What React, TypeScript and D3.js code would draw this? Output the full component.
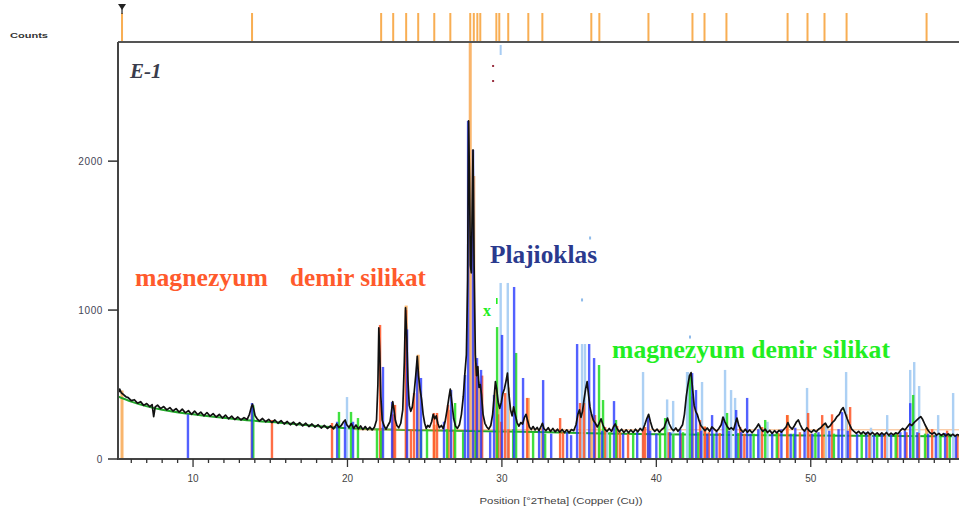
import React from 'react';
import * as d3 from 'd3';

// ---------- DATA ----------
// measured diffraction pattern [°2θ, counts]
const pattern: [number, number][] = [
  [5.14, 440], [5.25, 470], [5.35, 445], [5.5, 432], [5.65, 418], [5.8, 412], [6.0, 392], [6.2, 398], [6.4, 375],
  [6.6, 385], [6.8, 360], [7.0, 372], [7.2, 352], [7.35, 365], [7.45, 285], [7.55, 350], [7.7, 362], [7.9, 338],
  [8.1, 352], [8.3, 330], [8.5, 345], [8.7, 322], [8.9, 338], [9.1, 315], [9.3, 335], [9.5, 310], [9.7, 325],
  [9.9, 300], [10.1, 322], [10.3, 298], [10.5, 315], [10.7, 290], [10.9, 312], [11.1, 288], [11.3, 305],
  [11.5, 282], [11.7, 300], [11.9, 275], [12.1, 295], [12.3, 270], [12.5, 288], [12.7, 265], [12.9, 282],
  [13.1, 262], [13.3, 278], [13.5, 265], [13.65, 300], [13.78, 350], [13.85, 368], [13.92, 340], [14.02, 290],
  [14.15, 270], [14.3, 255], [14.5, 272], [14.7, 250], [14.9, 266], [15.1, 245], [15.3, 262], [15.5, 240],
  [15.7, 258], [15.9, 235], [16.1, 252], [16.3, 230], [16.5, 248], [16.7, 226], [16.9, 244], [17.1, 222],
  [17.3, 240], [17.5, 218], [17.7, 235], [17.9, 214], [18.1, 230], [18.3, 208], [18.5, 226], [18.7, 205],
  [18.9, 222], [19.1, 202], [19.3, 235], [19.45, 212], [19.6, 225], [19.75, 250], [19.85, 262], [19.95, 230],
  [20.1, 212], [20.25, 238], [20.4, 205], [20.55, 228], [20.7, 202], [20.85, 222], [21.0, 198], [21.15, 218],
  [21.3, 196], [21.45, 214], [21.6, 195], [21.75, 215], [21.88, 260], [21.97, 500], [22.03, 880], [22.09, 720],
  [22.16, 420], [22.25, 260], [22.38, 220], [22.5, 200], [22.62, 225], [22.75, 250], [22.85, 320], [22.93, 385],
  [23.0, 340], [23.1, 260], [23.2, 225], [23.32, 210], [23.45, 240], [23.58, 330], [23.68, 650], [23.76, 1015],
  [23.84, 820], [23.92, 520], [24.0, 360], [24.1, 320], [24.2, 350], [24.32, 450], [24.42, 560], [24.52, 690],
  [24.6, 560], [24.7, 470], [24.8, 400], [24.9, 300], [25.0, 240], [25.1, 205], [25.2, 225], [25.32, 215],
  [25.45, 250], [25.55, 300], [25.65, 270], [25.75, 290], [25.85, 240], [25.95, 210], [26.08, 225], [26.2, 205],
  [26.32, 250], [26.45, 330], [26.58, 420], [26.66, 470], [26.76, 380], [26.88, 270], [27.0, 220], [27.12, 205],
  [27.25, 230], [27.38, 300], [27.5, 420], [27.6, 570], [27.7, 700], [27.78, 1200], [27.84, 2270], [27.9, 1900],
  [27.96, 1300], [28.02, 1250], [28.08, 1700], [28.13, 2075], [28.2, 1300], [28.28, 700], [28.36, 560],
  [28.44, 620], [28.52, 480], [28.6, 500], [28.68, 430], [28.78, 300], [28.9, 240], [29.02, 215], [29.15, 200],
  [29.28, 225], [29.4, 300], [29.5, 420], [29.58, 520], [29.66, 470], [29.76, 380], [29.86, 340], [29.96, 380],
  [30.06, 440], [30.16, 470], [30.26, 520], [30.36, 577], [30.46, 430], [30.56, 330], [30.66, 290], [30.76, 350],
  [30.86, 300], [30.98, 245], [31.1, 220], [31.22, 245], [31.34, 235], [31.46, 280], [31.56, 300], [31.66, 260],
  [31.78, 215], [31.9, 198], [32.02, 218], [32.15, 195], [32.28, 212], [32.4, 190], [32.52, 215], [32.62, 240],
  [32.72, 205], [32.85, 190], [33.0, 210], [33.15, 185], [33.3, 205], [33.45, 182], [33.6, 200], [33.75, 180],
  [33.9, 198], [34.05, 178], [34.2, 196], [34.35, 176], [34.5, 198], [34.65, 190], [34.8, 230], [34.92, 300],
  [35.02, 330], [35.12, 280], [35.22, 320], [35.32, 400], [35.42, 470], [35.52, 520], [35.6, 440], [35.7, 350],
  [35.8, 300], [35.92, 260], [36.05, 240], [36.18, 215], [36.3, 240], [36.42, 270], [36.54, 230], [36.66, 200],
  [36.8, 185], [36.95, 205], [37.1, 185], [37.22, 215], [37.34, 235], [37.46, 205], [37.6, 182], [37.75, 200],
  [37.9, 178], [38.05, 196], [38.2, 176], [38.35, 195], [38.5, 178], [38.65, 200], [38.8, 182], [38.95, 205],
  [39.1, 190], [39.25, 230], [39.38, 270], [39.5, 300], [39.62, 250], [39.75, 205], [39.9, 185], [40.05, 200],
  [40.2, 180], [40.35, 198], [40.5, 210], [40.62, 245], [40.72, 275], [40.84, 235], [40.98, 205], [41.12, 190],
  [41.26, 208], [41.4, 186], [41.55, 205], [41.7, 230], [41.82, 300], [41.94, 420], [42.05, 500], [42.15, 560],
  [42.25, 580], [42.35, 470], [42.45, 360], [42.55, 320], [42.65, 300], [42.76, 260], [42.88, 225], [43.0, 210],
  [43.15, 190], [43.3, 208], [43.45, 186], [43.6, 215], [43.75, 200], [43.9, 185], [44.05, 205], [44.2, 230],
  [44.32, 282], [44.44, 250], [44.58, 220], [44.72, 200], [44.86, 210], [45.0, 195], [45.12, 240], [45.22, 275],
  [45.34, 225], [45.48, 195], [45.62, 180], [45.76, 200], [45.9, 180], [46.05, 195], [46.2, 176], [46.35, 195],
  [46.5, 215], [46.62, 235], [46.76, 205], [46.9, 185], [47.05, 200], [47.2, 178], [47.35, 192], [47.5, 172],
  [47.65, 190], [47.8, 175], [47.95, 192], [48.1, 180], [48.25, 198], [48.4, 215], [48.52, 245], [48.65, 215],
  [48.8, 200], [48.95, 225], [49.08, 250], [49.2, 262], [49.32, 230], [49.46, 200], [49.6, 188], [49.75, 210],
  [49.9, 190], [50.05, 180], [50.2, 196], [50.35, 182], [50.5, 200], [50.65, 210], [50.8, 228], [50.95, 240],
  [51.1, 210], [51.25, 222], [51.4, 245], [51.55, 260], [51.7, 285], [51.85, 300], [51.98, 330], [52.1, 345],
  [52.22, 310], [52.36, 270], [52.5, 235], [52.65, 200], [52.8, 185], [52.95, 172], [53.1, 186], [53.25, 168],
  [53.4, 182], [53.55, 166], [53.7, 180], [53.85, 164], [54.0, 178], [54.15, 162], [54.3, 176], [54.45, 160],
  [54.6, 175], [54.75, 162], [54.9, 178], [55.05, 160], [55.2, 174], [55.35, 162], [55.5, 176], [55.65, 170],
  [55.8, 190], [55.95, 205], [56.1, 195], [56.25, 215], [56.4, 235], [56.55, 225], [56.7, 245], [56.85, 260],
  [57.0, 275], [57.12, 285], [57.25, 265], [57.4, 230], [57.55, 200], [57.7, 178], [57.85, 168], [58.0, 178],
  [58.15, 160], [58.3, 172], [58.45, 158], [58.6, 170], [58.75, 156], [58.9, 168], [59.05, 155], [59.2, 166],
  [59.35, 154], [59.5, 164], [59.6, 160],
];

// smooth background curve [°2θ, counts]
const background: [number, number][] = [
  [5.14, 420], [6, 385], [8, 330], [10, 300], [13, 266], [16, 240], [20, 206], [25, 193],
  [30, 185], [35, 175], [40, 166], [50, 158], [59.6, 152],
];

// reference phase sticks [°2θ, counts]
const blueSticks: [number, number][] = [
  [9.67, 300], [13.82, 376], [19.33, 250], [19.84, 250], [20.36, 250], [22.30, 618], [22.89, 383], [23.86, 870],
  [24.51, 620], [24.76, 544], [26.25, 250], [26.71, 463], [27.61, 564], [27.81, 2270], [28.13, 2075], [28.39, 678],
  [28.65, 598], [29.24, 180], [29.49, 430], [30.01, 833], [30.79, 1155], [31.37, 544], [32.41, 190], [32.67, 530],
  [33.19, 170], [34.22, 180], [34.48, 160], [34.87, 772], [35.65, 772], [35.97, 678], [36.49, 190], [37.26, 389],
  [37.85, 170], [38.76, 180], [39.47, 282], [39.6, 190], [40.0, 170], [40.9, 180], [41.54, 200], [42.32, 577],
  [42.57, 463], [42.9, 190], [43.3, 170], [43.61, 295], [43.9, 180], [44.32, 282], [44.7, 190], [45.17, 329],
  [45.5, 180], [45.88, 410], [46.1, 170], [46.6, 200], [47.5, 180], [48.1, 200], [48.7, 170], [49.0, 210],
  [49.6, 190], [50.1, 170], [50.5, 180], [51.2, 190], [51.8, 200], [52.03, 315], [52.4, 190], [53.0, 170],
  [53.6, 180], [54.1, 160], [54.6, 175], [55.2, 165], [55.8, 180], [56.1, 190], [56.44, 375], [56.9, 180],
  [57.6, 170], [58.1, 165], [58.7, 175], [59.4, 160],
];

const lightBlueSticks: [number, number][] = [
  [19.97, 416], [29.92, 1182], [30.38, 1182], [35.19, 772], [35.38, 772], [36.8, 190], [39.14, 584], [40.70, 400],
  [41.09, 390], [41.99, 584], [42.05, 584], [42.96, 517], [44.45, 598], [44.84, 463], [45.10, 410], [46.7, 230],
  [47.2, 250], [49.76, 477], [51.0, 220], [52.29, 584], [53.9, 210], [54.95, 295], [56.44, 598], [56.70, 651],
  [57.02, 490], [58.25, 295], [59.22, 443],
];

const redSticks: [number, number][] = [
  [15.11, 262], [19.00, 242], [22.11, 900], [22.95, 300], [23.08, 363], [23.79, 1000], [24.11, 200], [24.31, 443],
  [25.60, 309], [25.80, 309], [26.51, 363], [26.90, 190], [28.33, 645], [28.72, 560], [29.75, 300], [29.95, 250],
  [30.21, 443], [30.42, 200], [31.63, 410], [33.77, 275], [33.96, 180], [35.06, 376], [35.32, 376], [36.03, 295],
  [36.68, 215], [37.46, 222], [37.65, 180], [38.17, 170], [39.14, 200], [39.27, 215], [40.8, 180], [41.6, 170],
  [42.83, 262], [43.16, 215], [43.4, 180], [44.1, 175], [45.43, 215], [45.7, 170], [46.85, 215], [47.9, 175],
  [48.47, 295], [49.3, 180], [49.83, 309], [50.0, 170], [50.74, 295], [51.38, 300], [52.55, 349], [53.8, 175],
  [54.8, 165], [55.6, 170], [56.2, 180], [57.0, 175], [57.86, 200], [58.83, 190], [59.5, 165],
];

const greenSticks: [number, number][] = [
  [13.9, 360], [19.45, 316], [20.23, 316], [20.68, 275], [21.91, 200], [22.18, 190], [24.76, 190], [25.15, 200],
  [26.45, 200], [26.97, 376], [27.49, 180], [28.30, 190], [29.69, 886], [30.73, 200], [30.92, 712], [32.02, 180],
  [32.8, 170], [36.29, 631], [36.55, 396], [37.0, 180], [37.39, 262], [38.5, 175], [40.24, 180], [40.57, 275],
  [41.1, 170], [41.73, 180], [42.18, 560], [42.7, 180], [43.7, 170], [44.58, 309], [45.3, 175], [46.3, 170],
  [47.05, 262], [47.8, 175], [48.9, 170], [50.3, 175], [51.5, 170], [53.3, 175], [54.3, 165], [55.5, 170],
  [56.63, 430], [57.4, 170], [58.4, 165], [59.0, 170],
];

// orange reference pattern: positions and intensities
const refPositions = [5.40, 13.82, 22.18, 22.96, 23.80, 24.58, 25.62, 26.66, 27.95, 28.18, 28.41, 28.60, 29.64,
  29.83, 30.41, 31.71, 32.62, 35.79, 36.31, 39.49, 42.34, 43.12, 44.54, 48.50, 49.79, 50.89, 52.32, 57.50];
const refIntensities = [460, 330, 210, 220, 1030, 700, 230, 330, 3000, 1900, 620, 520, 480, 380, 480, 410, 210,
  300, 250, 260, 420, 220, 250, 295, 260, 230, 300, 210];

// stray peak markers [°2θ, counts]
const lightBlueDots: [number, number][] = [[35.71, 1484], [35.19, 1068], [42.18, 819]];
const darkRedDots: [number, number][] = [[29.43, 2639], [29.43, 2538]];

const xLabels = [10, 20, 30, 40, 50];
const yLabels = [0, 1000, 2000];

// ---------- CHART ----------
export default function App() {
  const left = 118, right = 959, top = 42, bottom = 459;
  const x = d3.scaleLinear().domain([5.14, 59.6]).range([left, right]);
  const y = d3.scaleLinear().domain([0, 2800]).range([bottom, top]);
  const line = d3.line<[number, number]>().x(d => x(d[0])).y(d => y(d[1]));
  const smooth = d3.line<[number, number]>().x(d => x(d[0])).y(d => y(d[1])).curve(d3.curveMonotoneX);
  const minorTicks = d3.range(6, 60, 1);

  const sticks = (data: [number, number][], color: string, w: number, op: number, key: string) =>
    data.map((d, i) => (
      <rect key={key + i} x={x(d[0]) - w / 2} width={w} y={y(d[1])} height={y(0) - y(d[1])}
        fill={color} opacity={op} />
    ));

  const serif = "'Liberation Serif', 'Times New Roman', serif";
  const sans = "'Liberation Sans', Arial, sans-serif";

  return (
    <svg width={959} height={511} style={{ position: 'absolute', left: 0, top: 0, background: '#fff' }}>
      <defs>
        <clipPath id="plot">
          <rect x={left} y={top} width={right - left} height={bottom - top} />
        </clipPath>
      </defs>

      {/* top reference strip */}
      {refPositions.map((p, i) => (
        <rect key={'rt' + i} x={x(p) - 1} width={2} y={13} height={top - 13} fill="#f7a540" opacity={0.9} />
      ))}
      <path d={`M${x(5.40) - 4},4 L${x(5.40) + 4},4 L${x(5.40)},10 Z`} fill="#222" />
      <rect x={x(5.40) - 0.6} y={4} width={1.2} height={10} fill="#222" />
      <text x={10} y={38} fontFamily={sans} fontSize={8} fontWeight="bold" fill="#333" textLength={38}
        lengthAdjust="spacingAndGlyphs">Counts</text>

      <g clipPath="url(#plot)">
        {refPositions.map((p, i) => (
          <rect key={'rp' + i} x={x(p) - 1.5} width={3} y={y(refIntensities[i])}
            height={y(0) - y(refIntensities[i])} fill="#f8ad5c" opacity={0.9} />
        ))}
        <path d={smooth(background) || ''} fill="none" stroke="#22a82a" strokeWidth={2} />
        <line x1={x(20.5)} x2={right} y1={y(196)} y2={y(196)} stroke="#f79a50" strokeWidth={1} opacity={0.7} />
        {sticks(lightBlueSticks, '#a8cdf3', 2.4, 0.95, 'lb')}
        {sticks(redSticks, '#ff5526', 2.4, 0.85, 'r')}
        {sticks(greenSticks, '#1edc1e', 2.4, 0.85, 'g')}
        {sticks(blueSticks, '#2335ff', 2.4, 0.78, 'b')}
        <path d={line(pattern) || ''} fill="none" stroke="#111" strokeWidth={1.7} strokeLinejoin="round" />
        {lightBlueDots.map((d, i) => (
          <rect key={'lbd' + i} x={x(d[0]) - 1} y={y(d[1]) - 1.5} width={2} height={3} fill="#8fbbea" />
        ))}
        {darkRedDots.map((d, i) => (
          <rect key={'drd' + i} x={x(d[0]) - 1} y={y(d[1]) - 1} width={2} height={2} fill="#9a3040" />
        ))}
        <rect x={x(29.92) - 1} y={45} width={2} height={10} fill="#a8cdf3" />
      </g>

      {/* axes */}
      <line x1={left} x2={right} y1={top} y2={top} stroke="#555" strokeWidth={2} />
      <line x1={left} x2={left} y1={top} y2={bottom + 1} stroke="#444" strokeWidth={2} />
      <line x1={left} x2={right} y1={bottom} y2={bottom} stroke="#444" strokeWidth={2} />
      {minorTicks.map(t => (
        <line key={'mt' + t} x1={x(t)} x2={x(t)} y1={bottom} y2={bottom + (t % 10 === 0 ? 8 : 4)}
          stroke="#333" strokeWidth={1.3} />
      ))}
      {xLabels.map(t => (
        <text key={'xl' + t} x={x(t)} y={482} textAnchor="middle" fontFamily={sans} fontSize={10}
          fill="#444">{t}</text>
      ))}
      {yLabels.map(t => (
        <g key={'yl' + t}>
          <line x1={left - 10} x2={left} y1={y(t)} y2={y(t)} stroke="#333" strokeWidth={1.5} />
          <text x={103} y={y(t) + 3.5} textAnchor="end" fontFamily={sans} fontSize={10} fill="#445"
            letterSpacing={0.6}>{t}</text>
        </g>
      ))}
      <text x={561} y={504} textAnchor="middle" fontFamily={sans} fontSize={9} fill="#444" textLength={163}
        lengthAdjust="spacingAndGlyphs">Position [°2Theta] (Copper (Cu))</text>

      {/* annotations */}
      <text x={130} y={78} fontFamily={serif} fontStyle="italic" fontWeight="bold" fontSize={21}
        fill="#3a3c4c">E-1</text>
      <text x={135} y={286} fontFamily={serif} fontWeight="bold" fontSize={25} fill="#ff5a2c"
        textLength={133} lengthAdjust="spacingAndGlyphs">magnezyum</text>
      <text x={290} y={286} fontFamily={serif} fontWeight="bold" fontSize={25} fill="#ff5a2c"
        textLength={136} lengthAdjust="spacingAndGlyphs">demir silikat</text>
      <text x={490} y={263} fontFamily={serif} fontWeight="bold" fontSize={25} fill="#2a3a8e"
        textLength={107} lengthAdjust="spacingAndGlyphs">Plajioklas</text>
      <text x={612} y={358} fontFamily={serif} fontWeight="bold" fontSize={25} fill="#22ee22"
        textLength={278} lengthAdjust="spacingAndGlyphs">magnezyum demir silikat</text>
      <text x={483} y={316} fontFamily={serif} fontWeight="bold" fontSize={16} fill="#22ee22">x</text>
      <rect x={496} y={298} width={1.6} height={6} fill="#22ee22" />
    </svg>
  );
}
